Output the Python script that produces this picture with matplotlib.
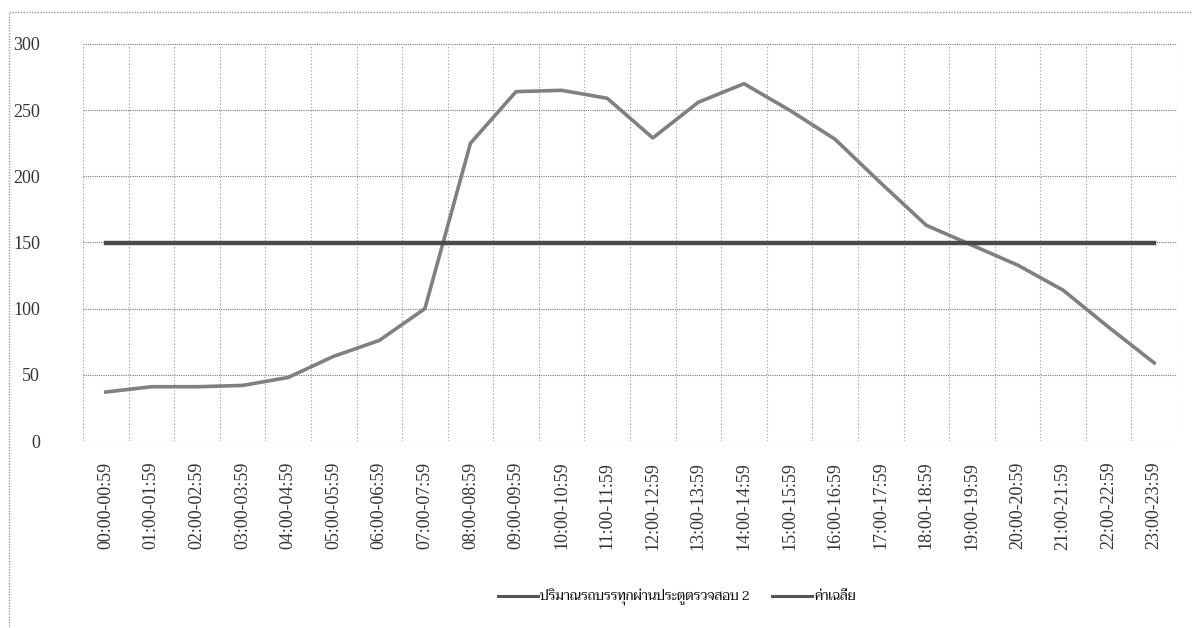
import matplotlib
matplotlib.use('Agg')
import matplotlib.pyplot as plt
from matplotlib import font_manager

# ช่วงเวลา 24 ชั่วโมง
hours = ['00:00-00:59', '01:00-01:59', '02:00-02:59', '03:00-03:59', '04:00-04:59',
         '05:00-05:59', '06:00-06:59', '07:00-07:59', '08:00-08:59', '09:00-09:59',
         '10:00-10:59', '11:00-11:59', '12:00-12:59', '13:00-13:59', '14:00-14:59',
         '15:00-15:59', '16:00-16:59', '17:00-17:59', '18:00-18:59', '19:00-19:59',
         '20:00-20:59', '21:00-21:59', '22:00-22:59', '23:00-23:59']
trucks = [37, 41, 41, 42, 48, 64, 76, 100, 225, 264, 265, 259,
          229, 256, 270, 250, 228, 195, 163, 148, 133, 114, 86, 59]
avg_value = 149.7
yticks = [0, 50, 100, 150, 200, 250, 300]
series_name = 'ปริมาณรถบรรทุกผ่านประตูตรวจสอบ 2'
avg_name = 'ค่าเฉลี่ย'

# ฟอนต์ไทยแบบมีหัว
installed = {f.name for f in font_manager.fontManager.ttflist}
thai_font = next((n for n in ['Taviraj', 'Trirong', 'Sarabun', 'Thasadith'] if n in installed),
                 'DejaVu Sans')

plt.rcParams['font.family'] = ['Liberation Serif', 'DejaVu Sans']

fig = plt.figure(figsize=(11.93, 6.28), dpi=100)
ax = fig.add_axes([83 / 1193, 1 - 441 / 628, (1177 - 83) / 1193, (441 - 44) / 628])

x = list(range(len(hours)))
l1, = ax.plot(x, trucks, color='#808080', lw=2.6, solid_joinstyle='round')
l2, = ax.plot(x, [avg_value] * len(hours), color='#4a4a4a', lw=3.2)

ax.set_xlim(-0.5, len(hours) - 0.5)
ax.set_ylim(0, 300)
ax.set_yticks(yticks)
ax.set_xticks(x)
ax.set_xticklabels(hours, rotation=90, fontsize=13, color='#333333')
ax.tick_params(axis='y', labelsize=13, length=0, pad=31, colors='#333333')
ax.tick_params(axis='x', length=0, pad=15)

# เส้นกริดแนวตั้งอยู่ระหว่างช่วงเวลา
ax.set_xticks([i - 0.5 for i in range(len(hours) + 1)], minor=True)
ax.tick_params(axis='x', which='minor', length=0)
ax.grid(axis='x', which='minor', linestyle=(0, (1, 2)), color='#999999', lw=0.8)
ax.grid(axis='y', which='major', linestyle=(0, (1, 1)), color='#777777', lw=0.8)
ax.set_axisbelow(True)
for s in ax.spines.values():
    s.set_visible(False)

leg = fig.legend([l1, l2], [series_name, avg_name], loc='center',
                 bbox_to_anchor=(677 / 1193, 1 - 597 / 628),
                 ncol=2, frameon=False, handlelength=3.0, columnspacing=1.7, handletextpad=0.2,
                 prop=font_manager.FontProperties(family=[thai_font, 'DejaVu Sans'], size=9.5))
for h in leg.legend_handles:
    h.set_linewidth(2.2)
    h.set_color('#555555')

# กรอบรอบภาพ
fig.patches.append(plt.Rectangle((9 / 1193, -0.02), 1.1, 1 - 12 / 628 + 0.02,
                                 transform=fig.transFigure, fill=False,
                                 edgecolor='#999999', lw=1, linestyle=(0, (1, 1))))

fig.savefig('out.png', dpi=100)
